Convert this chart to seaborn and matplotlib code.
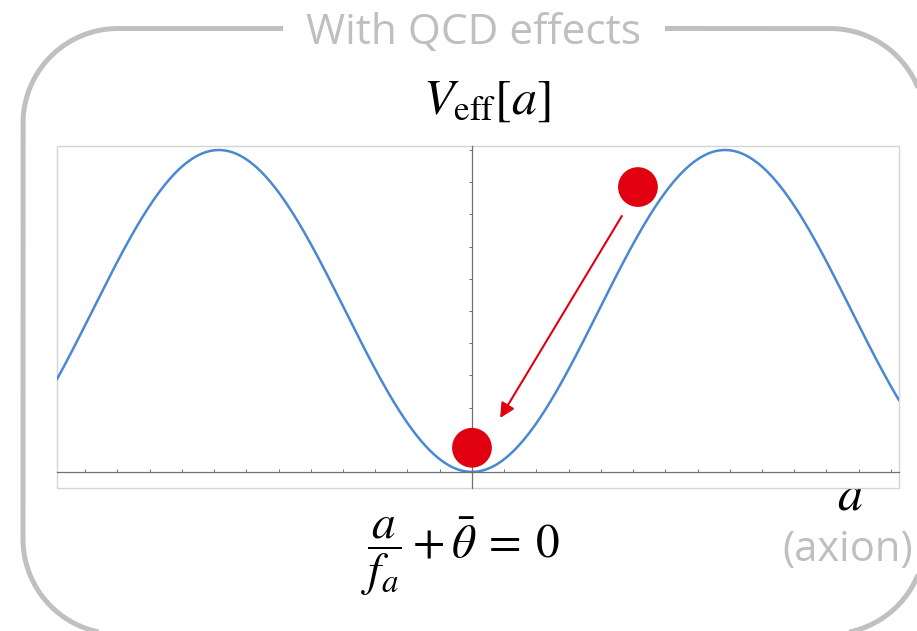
import numpy as np
import pandas as pd
import seaborn as sns
import matplotlib.pyplot as plt
from matplotlib.patches import Rectangle

# Effective axion potential V_eff = 1 - cos(a/f_a + theta_bar), minimum at a/f_a + theta_bar = 0
theta_bar = 0.0
a_range = [-5.15, 5.30]      # visible range of a/f_a (rad)
v_range = [-0.10, 2.025]     # visible range of V_eff

# red balls: start position (up the slope) and end position (at the minimum)
ball_a = [2.06, 0.0]
ball_v = [1.77, 0.15]

# arrow showing the roll-down
arrow_from = (1.86, 1.59)
arrow_to = (0.35, 0.335)

x_ticks = np.round(np.arange(-12, 14) * 0.4, 2)
y_ticks = np.round(np.arange(0, 11) * 0.2, 2)

a = np.linspace(a_range[0], a_range[1], 600)
df = pd.DataFrame({'a': a, 'V': 1 - np.cos(a + theta_bar)})
balls = pd.DataFrame({'a': ball_a, 'V': ball_v})

sns.set_theme(style='white')
plt.rcParams['mathtext.fontset'] = 'stix'

W, H = 917, 631
fig = plt.figure(figsize=(W / 100, H / 100), dpi=100)


def fy(y):
    # pixel row (from top) -> overlay coordinate
    return H - y


def rounded_frame(x0, y0, x1, y1, r, gap):
    # outline of a rounded box (pixel rows from top), open at the title gap
    pts = [(gap[1], y0), (x1 - r, y0)]
    corners = [((x1 - r, y0 + r), -90, 0), ((x1 - r, y1 - r), 0, 90),
               ((x0 + r, y1 - r), 90, 180), ((x0 + r, y0 + r), 180, 270)]
    for (cx, cy), t0, t1 in corners:
        t = np.radians(np.linspace(t0, t1, 40))
        pts += list(zip(cx + r * np.cos(t), cy + r * np.sin(t)))
    pts.append((gap[0], y0))
    xs, ys = zip(*pts)
    return np.array(xs), np.array(ys)


# overlay in pixel coords for the rounded frame and labels
bg = fig.add_axes([0, 0, 1, 1])
bg.set_xlim(0, W)
bg.set_ylim(0, H)
bg.axis('off')
bg.patch.set_alpha(0)
fx, fyy = rounded_frame(23, 28.5, 925, 634, 95, (283, 665))
bg.plot(fx, fy(fyy), color='#c0c0c0', lw=3.6, solid_capstyle='butt')
bg.text(474, fy(33), 'With QCD effects', ha='center', va='center', fontsize=30.5,
        color='#bfbfbf', family='Open Sans')
bg.text(487, fy(100), r'$V_{\mathrm{eff}}[a]$', ha='center', va='center', fontsize=36, color='black')
bg.text(361, fy(556), r'$\dfrac{a}{f_a} + \bar{\theta}\:=\:0$', ha='left', va='center',
        fontsize=34, color='black')
bg.text(850, fy(495), r'$a$', ha='center', va='center', fontsize=36, color='black')
bg.text(782, fy(550), '(axion)', ha='left', va='center', fontsize=30, color='#bfbfbf',
        family='Open Sans')

# main plot
ax = fig.add_axes([57 / W, (H - 488) / H, (899 - 57) / W, (488 - 146) / H])
sns.lineplot(data=df, x='a', y='V', ax=ax, color='#4a88d4', lw=1.8, zorder=2)
sns.scatterplot(data=balls, x='a', y='V', ax=ax, color='#e1000f', s=820,
                edgecolor='none', zorder=4, clip_on=False)
ax.annotate('', xy=arrow_to, xytext=arrow_from,
            arrowprops=dict(arrowstyle='-|>', color='#e1000f', lw=1.5,
                            mutation_scale=22, shrinkA=0, shrinkB=0))

ax.set_xlim(a_range)
ax.set_ylim(v_range)
ax.set_xticks(x_ticks)
ax.set_yticks(y_ticks)
ax.set_xticklabels([])
ax.set_yticklabels([])
ax.set_xlabel('')
ax.set_ylabel('')

for side in ['top', 'right']:
    ax.spines[side].set_visible(False)
ax.spines['left'].set_position(('data', 0))
ax.spines['bottom'].set_position(('data', 0))
for side in ['left', 'bottom']:
    ax.spines[side].set_color('#707070')
    ax.spines[side].set_linewidth(0.9)
ax.tick_params(axis='x', direction='in', length=2.5, width=0.7, color='#707070', bottom=True)
ax.tick_params(axis='y', direction='out', length=2.5, width=0.7, color='#707070', left=True)
ax.add_patch(Rectangle((0, 0), 1, 1, transform=ax.transAxes, fc='none',
                       ec='#d4d4d4', lw=1.0, clip_on=False, zorder=1))

plt.savefig('out.png', dpi=100)
